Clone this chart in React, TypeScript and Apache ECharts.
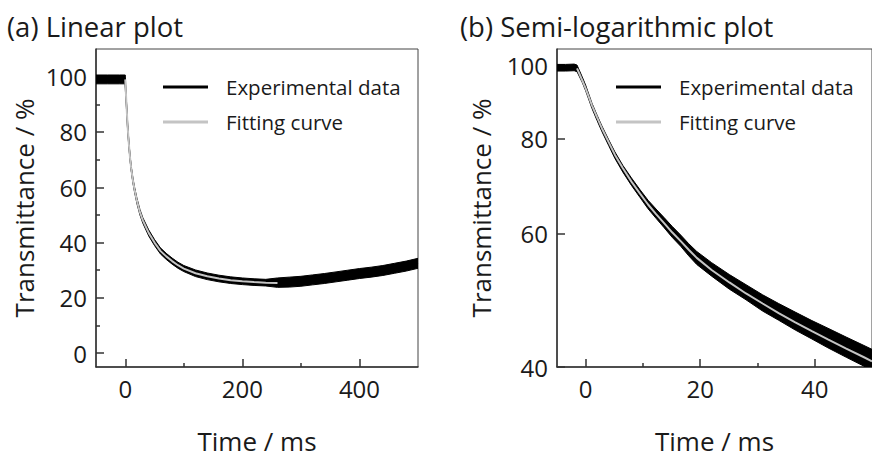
import React, { useEffect, useRef } from 'react';
import * as echarts from 'echarts';

// ---------- (a) Linear plot ----------
const expTimeA = [-50, -30, -10, -0.5, 0, 2, 4, 6, 8, 10, 13, 16, 20, 25, 30, 40, 50, 60, 70, 80, 90, 100, 120, 140, 160, 180, 200, 220, 240, 260, 280, 300, 320, 340, 360, 380, 400, 420, 440, 460, 480, 500];
const expMeanA = [99, 99, 99, 99, 99, 90, 82, 76, 71, 67, 62.5, 59, 55, 51, 48, 43.5, 40, 37, 35, 33.3, 31.8, 30.6, 28.9, 27.8, 27, 26.4, 26, 25.7, 25.5, 25.5, 25.7, 26.0, 26.5, 27.0, 27.6, 28.2, 28.8, 29.3, 29.9, 30.7, 31.5, 32.5];
const expHalfA = [1.6, 1.6, 1.6, 1.6, 1.6, 0.8, 0.8, 0.8, 0.8, 0.8, 0.9, 0.9, 1.0, 1.0, 1.0, 1.1, 1.1, 1.1, 1.1, 1.1, 1.1, 1.1, 1.2, 1.2, 1.2, 1.2, 1.2, 1.2, 1.2, 1.7, 1.8, 1.8, 1.8, 1.8, 1.8, 1.8, 1.8, 1.8, 1.8, 1.8, 1.8, 1.8];
const fitTimeA = [0, 2, 4, 6, 8, 10, 13, 16, 20, 25, 30, 40, 50, 60, 70, 80, 90, 100, 120, 140, 160, 180, 200, 220, 240, 260];
const fitValuesA = [99, 90, 82, 76, 71, 67, 62.5, 59, 55, 51, 48, 43.5, 40, 37, 35, 33.3, 31.8, 30.6, 28.9, 27.8, 27, 26.4, 26, 25.7, 25.5, 25.4];
const xTicksA = [0, 200, 400];
const xMinorA = [100, 300];
const yTicksA = [0, 20, 40, 60, 80, 100];
const yMinorA = [10, 30, 50, 70, 90];

// ---------- (b) Semi-logarithmic plot ----------
const expTimeB = [-5, -3.5, -2, -1.5, -0.6, 0, 1.1, 2, 2.85, 4, 5.1, 6.5, 8, 9.5, 10.9, 12.3, 13.7, 15.1, 16.6, 18, 19.4, 22, 25.1, 28, 30.9, 33.7, 36.6, 39.5, 42.3, 45.5, 48.6, 50];
const expMeanB = [99.2, 99.2, 99.3, 99, 95.7, 93.3, 88.4, 85.2, 82.4, 79.1, 76.1, 73, 70.2, 67.7, 65.5, 63.7, 62.0, 60.3, 58.7, 57.1, 55.7, 53.8, 51.8, 50.2, 48.6, 47.3, 46.0, 44.8, 43.7, 42.5, 41.4, 40.9];
const expHalfB = [1.0, 1.0, 1.0, 1.0, 0.8, 0.8, 0.7, 0.7, 0.7, 0.7, 0.75, 0.75, 0.8, 0.8, 0.85, 0.9, 0.95, 1.0, 1.0, 1.05, 1.1, 1.1, 1.15, 1.15, 1.2, 1.2, 1.25, 1.25, 1.3, 1.3, 1.3, 1.3];
const fitTimeB = [-1.5, -0.6, 0, 1.1, 2, 2.85, 4, 5.1, 6.5, 8, 9.5, 10.9, 12.3, 13.7, 15.1, 16.6, 18, 19.4, 22, 25.1, 28, 30.9, 33.7, 36.6, 39.5, 42.3, 45.5, 48.6, 50];
const fitValuesB = [99, 95.5, 93.2, 88.5, 85.3, 82.5, 79.2, 76.2, 73.1, 70.2, 67.7, 65.5, 63.6, 61.9, 60.2, 58.6, 57.1, 55.7, 53.7, 51.7, 50.0, 48.5, 47.1, 45.8, 44.6, 43.5, 42.3, 41.2, 40.7];
const xTicksB = [0, 20, 40];
const xMinorB = [10, 30];
const yTicksB = [40, 60, 80, 100];

const legendNames = ['Experimental data', 'Fitting curve'];
const titles = ['(a) Linear plot', '(b) Semi-logarithmic plot'];
const xName = 'Time / ms';
const yName = 'Transmittance / %';

const FONT = 'Open Sans';
const TXT = '#1a1a1a';
const AX = '#333333';
const FITC = '#c4c4c4';

export default function App() {
  const ref = useRef<HTMLDivElement>(null);
  useEffect(() => {
    document.body.style.margin = '0';
    if (!ref.current) return;
    const chart = echarts.init(ref.current, undefined, { renderer: 'svg' });
    const lg = (v: number) => Math.log10(v);

    const loA = expMeanA.map((m, i) => m - expHalfA[i]);
    const hiA = expMeanA.map((m, i) => m + expHalfA[i]);
    const loB = expMeanB.map((m, i) => lg(m - expHalfB[i]));
    const hiB = expMeanB.map((m, i) => lg(m + expHalfB[i]));

    const band = (xi: number, yi: number, times: number[], lo: number[], hi: number[]) => ({
      name: 'noise band', type: 'custom', xAxisIndex: xi, yAxisIndex: yi,
      data: [[times[0], lo[0]]], clip: true, silent: true, z: 2,
      renderItem: (_p: any, api: any) => {
        const top = times.map((t, i) => api.coord([t, hi[i]]));
        const bot = times.map((t, i) => api.coord([t, lo[i]])).reverse();
        return { type: 'polygon', shape: { points: top.concat(bot) }, style: { fill: '#000', stroke: '#000', lineWidth: 1 } };
      },
    });

    const labelStyle = { color: TXT, fontFamily: FONT, fontSize: 24 };
    const nameStyle = { color: TXT, fontFamily: FONT, fontSize: 26 };
    const axisLine = { show: true, onZero: false, lineStyle: { color: AX, width: 1.5 } };

    const majorX = (grid: number, min: number, max: number, ticks: number[]) => ({
      type: 'value', gridIndex: grid, min, max, position: 'bottom',
      name: xName, nameLocation: 'middle', nameGap: 61, nameTextStyle: nameStyle,
      axisLine, splitLine: { show: false },
      axisTick: { show: true, inside: true, length: 8, customValues: ticks, lineStyle: { color: AX, width: 1.5 } },
      axisLabel: { show: true, customValues: ticks, margin: 9, ...labelStyle },
    });
    const minorX = (grid: number, min: number, max: number, ticks: number[]) => ({
      type: 'value', gridIndex: grid, min, max, position: 'bottom',
      axisLine: { show: false, onZero: false }, splitLine: { show: false }, axisLabel: { show: false },
      axisTick: { show: true, inside: true, length: 4, customValues: ticks, lineStyle: { color: AX, width: 1.5 } },
    });

    const option: any = {
      animation: false,
      backgroundColor: '#ffffff',
      title: [
        { text: titles[0], left: 7, top: 12, padding: 0, textStyle: { color: TXT, fontFamily: FONT, fontSize: 27.5, fontWeight: 'normal' } },
        { text: titles[1], left: 460, top: 12, padding: 0, textStyle: { color: TXT, fontFamily: FONT, fontSize: 27.5, fontWeight: 'normal' } },
      ],
      grid: [
        { left: 96, top: 49, width: 322, height: 323, show: true, borderColor: '#444', borderWidth: 1, backgroundColor: 'transparent' },
        { left: 557, top: 49, width: 321, height: 322, show: true, borderColor: '#444', borderWidth: 1, backgroundColor: 'transparent' },
      ],
      legend: [0, 1].map((k) => ({
        orient: 'vertical',
        left: k === 0 ? 163 : 616,
        top: 76,
        icon: 'rect',
        itemWidth: 45,
        itemHeight: 3,
        itemGap: 13,
        padding: 0,
        inactiveColor: TXT,
        textStyle: { color: TXT, fontFamily: FONT, fontSize: 20.5, lineHeight: 22, padding: [0, 0, 0, 13] },
        data: [
          { name: legendNames[0], itemStyle: { color: '#000' } },
          { name: legendNames[1], itemStyle: { color: FITC } },
        ],
      })),
      xAxis: [
        majorX(0, -50, 500, xTicksA),
        minorX(0, -50, 500, xMinorA),
        majorX(1, -5, 50, xTicksB),
        minorX(1, -5, 50, xMinorB),
      ],
      yAxis: [
        {
          type: 'value', gridIndex: 0, min: -5, max: 110, position: 'left',
          name: yName, nameLocation: 'middle', nameGap: 59, nameTextStyle: nameStyle,
          axisLine, splitLine: { show: false },
          axisTick: { show: true, inside: true, length: 8, customValues: yTicksA, lineStyle: { color: AX, width: 1.5 } },
          axisLabel: { show: true, customValues: yTicksA, margin: 9, ...labelStyle },
        },
        {
          type: 'value', gridIndex: 0, min: -5, max: 110, position: 'left',
          axisLine: { show: false, onZero: false }, splitLine: { show: false }, axisLabel: { show: false },
          axisTick: { show: true, inside: true, length: 4, customValues: yMinorA, lineStyle: { color: AX, width: 1.5 } },
        },
        {
          type: 'value', gridIndex: 1, min: lg(40), max: lg(105), position: 'left',
          name: yName, nameLocation: 'middle', nameGap: 63, nameTextStyle: nameStyle,
          axisLine, splitLine: { show: false },
          axisTick: { show: true, inside: true, length: 8, customValues: yTicksB.map(lg), lineStyle: { color: AX, width: 1.5 } },
          axisLabel: {
            show: true, customValues: yTicksB.map(lg), margin: 9, ...labelStyle,
            formatter: (v: number) => String(Math.round(Math.pow(10, v))),
          },
        },
      ],
      series: [
        band(0, 0, expTimeA, loA, hiA),
        {
          name: legendNames[0], type: 'line', xAxisIndex: 0, yAxisIndex: 0,
          data: expTimeA.map((t, i) => [t, expMeanA[i]]), symbol: 'none',
          lineStyle: { color: '#000', width: 1.5 }, itemStyle: { color: '#000' }, z: 2,
        },
        {
          name: legendNames[1], type: 'line', xAxisIndex: 0, yAxisIndex: 0,
          data: fitTimeA.map((t, i) => [t, fitValuesA[i]]), symbol: 'none',
          lineStyle: { color: FITC, width: 2 }, itemStyle: { color: FITC }, z: 3,
        },
        band(2, 2, expTimeB, loB, hiB),
        {
          name: legendNames[0], type: 'line', xAxisIndex: 2, yAxisIndex: 2,
          data: expTimeB.map((t, i) => [t, lg(expMeanB[i])]), symbol: 'none',
          lineStyle: { color: '#000', width: 1.5 }, itemStyle: { color: '#000' }, z: 2,
        },
        {
          name: legendNames[1], type: 'line', xAxisIndex: 2, yAxisIndex: 2,
          data: fitTimeB.map((t, i) => [t, lg(fitValuesB[i])]), symbol: 'none',
          lineStyle: { color: FITC, width: 2 }, itemStyle: { color: FITC }, z: 3,
        },
      ],
    };
    chart.setOption(option);
    return () => chart.dispose();
  }, []);
  return <div ref={ref} style={{ position: 'absolute', left: 0, top: 0, width: 872, height: 459 }} />;
}
